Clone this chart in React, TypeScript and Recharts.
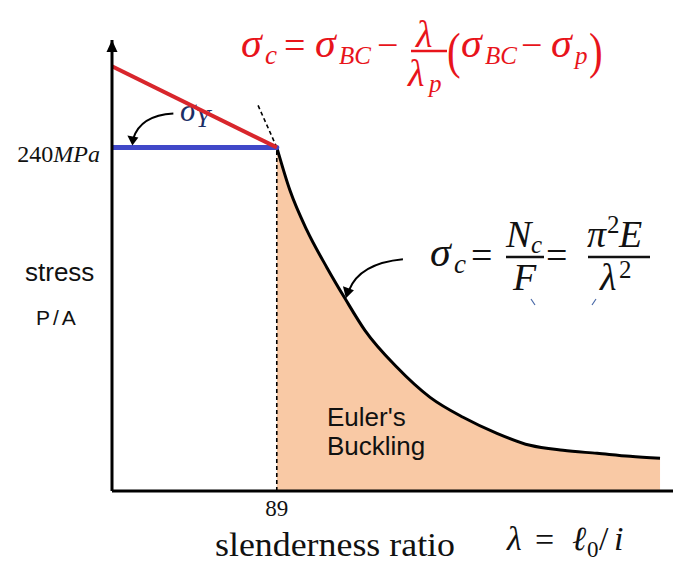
import React from 'react';
import { ComposedChart, Line, Area, XAxis, YAxis, ReferenceLine, ReferenceDot } from 'recharts';

// Slenderness ratio (λ) and critical stress (MPa) along the Euler buckling curve
const lambdaEuler = [89, 96.1, 105.3, 116.1, 125.8, 136.6, 153.9, 171.8, 189.6, 207.9, 225.8, 243.6, 262, 279.8, 296];
const sigmaEuler = [240, 210, 182, 156, 134.6, 112.2, 86.4, 65.4, 51.5, 40.3, 31.9, 28.4, 26.3, 24.2, 22.8];

// Linear (intermediate column) formula
const lambdaLinear = [0, 89];
const sigmaLinear = [296.6, 240];

// Yield plateau
const lambdaYield = [0, 89];
const sigmaYield = [240, 240];

// Dashed guide: continues the Euler tangent above the limit point, then drops to the axis
const lambdaGuide = [78.9, 89];
const sigmaGuide = [269.3, 240];

const xTicks = [89];
const yTicks = [240];
const xDomain = [0, 303];
const yDomain = [0, 315];

type Row = { lam: number; euler?: number; linear?: number; yieldLine?: number };

function buildRows(): Row[] {
  const map = new Map<number, Row>();
  const put = (l: number, key: keyof Row, v: number) => {
    let r = map.get(l);
    if (!r) {
      r = { lam: l };
      map.set(l, r);
    }
    (r as any)[key] = v;
  };
  lambdaEuler.forEach((l, i) => put(l, 'euler', sigmaEuler[i]));
  lambdaLinear.forEach((l, i) => put(l, 'linear', sigmaLinear[i]));
  lambdaYield.forEach((l, i) => put(l, 'yieldLine', sigmaYield[i]));
  return Array.from(map.values()).sort((a, b) => a.lam - b.lam);
}

const rows = buildRows();

const MATH = "'Liberation Serif', 'DejaVu Serif', serif";
const SANS = "'Liberation Sans', Arial, sans-serif";
const RED = '#e8141b';

const XTick = (props: any) => {
  const { x, y, payload } = props;
  return (
    <text x={x} y={y} dy={17} textAnchor="middle" fontFamily={MATH} fontSize={23} fill="#111">
      {payload.value}
    </text>
  );
};

const YTick = (props: any) => {
  const { y, payload } = props;
  return (
    <text x={100} y={y} dy={15} textAnchor="end" fontFamily={MATH} fontSize={24} fill="#111">
      {payload.value}
      <tspan fontStyle="italic">MPa</tspan>
    </text>
  );
};

// Arrowhead at the top of the stress axis
const AxisArrow = (props: any) => {
  const { cx, cy } = props;
  return <path d={`M ${cx} ${cy} L ${cx - 5.5} ${cy + 12} L ${cx + 5.5} ${cy + 12} Z`} fill="#000" />;
};

// Curved pointer ending on the yield plateau
const YieldPointer = (props: any) => {
  const { cx, cy } = props;
  return (
    <g>
      <path d={`M ${cx + 41} ${cy - 34} Q ${cx + 8} ${cy - 32} ${cx + 1} ${cy - 9}`} fill="none" stroke="#000" strokeWidth={2} />
      <path d={`M ${cx} ${cy - 2} L ${cx - 5} ${cy - 12} L ${cx + 6} ${cy - 10} Z`} fill="#000" />
    </g>
  );
};

// Curved pointer ending on the Euler curve
const EulerPointer = (props: any) => {
  const { cx, cy } = props;
  return (
    <g>
      <path d={`M ${cx + 58} ${cy - 39} Q ${cx + 15} ${cy - 35} ${cx + 4} ${cy - 8}`} fill="none" stroke="#000" strokeWidth={2} />
      <path d={`M ${cx + 1} ${cy} L ${cx - 2} ${cy - 12} L ${cx + 9} ${cy - 8} Z`} fill="#000" />
    </g>
  );
};

export default function App() {
  return (
    <div style={{ position: 'absolute', left: 0, top: 0, width: 674, height: 562, background: '#fff' }}>
      {/* σY label sits beneath the chart so the red line crosses it */}
      <svg width={674} height={562} style={{ position: 'absolute', left: 0, top: 0 }}>
        <text x={180} y={121} fontFamily={MATH} fontStyle="italic" fontSize={32} fill="#1c2f66">
          σ
        </text>
        <text x={196} y={127} fontFamily={MATH} fontStyle="italic" fontSize={25} fill="#1c2f66">
          Y
        </text>
      </svg>
      <div style={{ position: 'absolute', left: 0, top: 0 }}>
        <ComposedChart width={674} height={562} data={rows} margin={{ top: 40, right: 1, bottom: 41, left: 52 }}>
          <XAxis
            dataKey="lam"
            type="number"
            domain={xDomain}
            ticks={xTicks}
            height={30}
            tickLine={false}
            axisLine={{ stroke: '#000', strokeWidth: 3 }}
            tick={<XTick />}
            allowDataOverflow
          />
          <YAxis
            type="number"
            domain={yDomain}
            ticks={yTicks}
            width={60}
            tickLine={false}
            axisLine={{ stroke: '#000', strokeWidth: 3 }}
            tick={<YTick />}
            allowDataOverflow
          />
          <Area
            dataKey="euler"
            type="monotone"
            fill="#f9c9a5"
            fillOpacity={1}
            stroke="#000"
            strokeWidth={3}
            connectNulls
            isAnimationActive={false}
            dot={false}
            activeDot={false}
          />
          <ReferenceLine
            segment={[{ x: lambdaGuide[1], y: 0 }, { x: lambdaGuide[1], y: sigmaGuide[1] }]}
            stroke="#000"
            strokeWidth={1.6}
            strokeDasharray="4 3"
          />
          <ReferenceLine
            segment={[{ x: lambdaGuide[0], y: sigmaGuide[0] }, { x: lambdaGuide[1], y: sigmaGuide[1] }]}
            stroke="#000"
            strokeWidth={1.6}
            strokeDasharray="4 3"
          />
          <Line
            dataKey="yieldLine"
            type="linear"
            stroke="#4048c8"
            strokeWidth={5}
            strokeLinecap="round"
            connectNulls
            dot={false}
            activeDot={false}
            isAnimationActive={false}
          />
          <Line
            dataKey="linear"
            type="linear"
            stroke="#d8262c"
            strokeWidth={4}
            connectNulls
            dot={false}
            activeDot={false}
            isAnimationActive={false}
          />
          <ReferenceDot x={0} y={yDomain[1]} r={0} ifOverflow="visible" shape={<AxisArrow />} />
          <ReferenceDot x={11} y={240} r={0} ifOverflow="visible" shape={<YieldPointer />} />
          <ReferenceDot x={lambdaEuler[4]} y={sigmaEuler[4]} r={0} ifOverflow="visible" shape={<EulerPointer />} />
        </ComposedChart>
      </div>
      <svg width={674} height={562} style={{ position: 'absolute', left: 0, top: 0, pointerEvents: 'none' }}>
        {/* Linear formula for intermediate columns */}
        <g fill={RED} fontFamily={MATH}>
          <text x={241} y={57} fontSize={42} fontStyle="italic">σ</text>
          <text x={265} y={64} fontSize={27} fontStyle="italic">c</text>
          <text x={284} y={58} fontSize={38}>=</text>
          <text x={315} y={57} fontSize={42} fontStyle="italic">σ</text>
          <text x={339} y={64} fontSize={25} fontStyle="italic">BC</text>
          <text x={377} y={58} fontSize={38}>−</text>
          <text x={416} y={47} fontSize={38} fontStyle="italic">λ</text>
          <line x1={411} x2={447} y1={51} y2={51} stroke={RED} strokeWidth={2.5} />
          <text x={408} y={86} fontSize={38} fontStyle="italic">λ</text>
          <text x={429} y={92} fontSize={25} fontStyle="italic">p</text>
          <text transform="translate(447 68) scale(1 1.25)" fontSize={41}>(</text>
          <text x={461} y={57} fontSize={42} fontStyle="italic">σ</text>
          <text x={485} y={64} fontSize={25} fontStyle="italic">BC</text>
          <text x={521} y={58} fontSize={38}>−</text>
          <text x={551} y={57} fontSize={42} fontStyle="italic">σ</text>
          <text x={575} y={64} fontSize={25} fontStyle="italic">p</text>
          <text transform="translate(589 68) scale(1 1.25)" fontSize={41}>)</text>
        </g>
        {/* Euler stress formula */}
        <g fill="#111" fontFamily={MATH}>
          <text x={430} y={266} fontSize={42} fontStyle="italic">σ</text>
          <text x={454} y={273} fontSize={27} fontStyle="italic">c</text>
          <text x={471} y={268} fontSize={38}>=</text>
          <text x={506} y={247} fontSize={38} fontStyle="italic">N</text>
          <text x={531} y={253} fontSize={25} fontStyle="italic">c</text>
          <line x1={506} x2={544} y1={257} y2={257} stroke="#111" strokeWidth={2.5} />
          <text x={513} y={290} fontSize={38} fontStyle="italic">F</text>
          <text x={546} y={268} fontSize={38}>=</text>
          <text x={587} y={247} fontSize={38} fontStyle="italic">π</text>
          <text x={607} y={233} fontSize={25}>2</text>
          <text x={619} y={247} fontSize={38} fontStyle="italic">E</text>
          <line x1={588} x2={650} y1={257} y2={257} stroke="#111" strokeWidth={2.5} />
          <text x={600} y={290} fontSize={38} fontStyle="italic">λ</text>
          <text x={619} y={278} fontSize={25}>2</text>
        </g>
        <path d="M 531 299 L 535 305 M 596 299 L 592 305" stroke="#4a6aa8" strokeWidth={1.2} fill="none" />
        {/* Axis titles */}
        <text x={25} y={281} fontFamily={SANS} fontSize={26} fill="#111">stress</text>
        <text x={36} y={325} fontFamily={SANS} fontSize={21} letterSpacing={3} fill="#111">P/A</text>
        <text x={215} y={556} fontFamily={MATH} fontSize={33} textLength={240} lengthAdjust="spacingAndGlyphs" fill="#111">slenderness ratio</text>
        <g fill="#111" fontFamily={MATH}>
          <text x={507} y={550} fontSize={34} fontStyle="italic">λ</text>
          <text x={535} y={551} fontSize={34}>=</text>
          <text x={572} y={550} fontSize={34} fontStyle="italic">ℓ</text>
          <text x={587} y={557} fontSize={23}>0</text>
          <text x={599} y={550} fontSize={34}>/</text>
          <text x={614} y={550} fontSize={34} fontStyle="italic">i</text>
        </g>
        {/* Region label */}
        <text x={327} y={426} fontFamily={SANS} fontSize={26} fill="#111">Euler's</text>
        <text x={327} y={455} fontFamily={SANS} fontSize={26} fill="#111">Buckling</text>
      </svg>
    </div>
  );
}
